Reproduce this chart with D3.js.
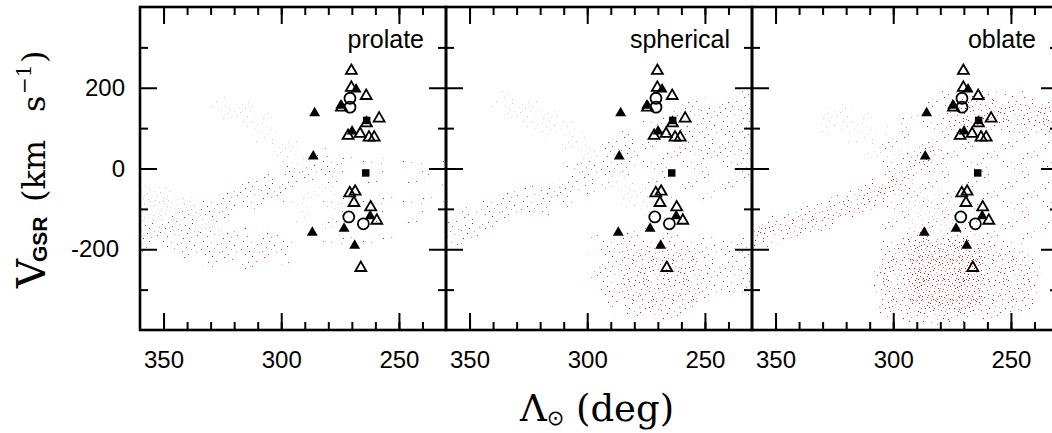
<!DOCTYPE html>
<html><head><meta charset="utf-8">
<script src="https://cdn.jsdelivr.net/npm/d3@7/dist/d3.min.js"></script>
<style>body{margin:0;background:#fff}svg{display:block}</style>
</head><body>
<script>
// ================= DATA =================
const panelNames = ["prolate", "spherical", "oblate"];
const xMajorTicks = [350, 300, 250];
const xMinorTicks = [350, 340, 330, 320, 310, 300, 290, 280, 270, 260, 250, 240];
const yMajorTicks = [-200, 0, 200];
const yMinorTicks = [-300, -100, 100, 300];

// observed stars [Lambda, V_GSR] (same in all panels)
const openTriangles = [[270.2,242],[270.2,200],[263.9,180],[274.4,151],[258.4,124],[263.8,112],
  [271.6,81],[266.5,86],[262.7,77],[260.5,77],[270.9,-61],[268.6,-57],[269.1,-85],[262.0,-96],
  [259.4,-129],[266.2,-246]];
const filledTriangles = [[285.8,137],[268.2,196],[274.7,156],[269.9,92],[286.4,30],[286.8,-159],
  [273.3,-149],[268.8,-191],[262.2,-118]];
const openCircles = [[270.8,174],[270.8,152],[271.3,-120],[265.1,-137]];
const filledSquares = [[263.7,119],[264.1,-11]];

// simulated particle clouds: rows of [Lambda, V_low, V_high] (outline of each cloud)
const prolateGreyClump   = [[360,-165,-55],[352,-170,-62],[344,-166,-75],[336,-160,-100],[328,-150,-115]];
const prolateGreyStream  = [[327,140,170],[318,112,152],[310,88,135],[302,45,95],[295,5,60],[288,-25,25],[281,-65,5],[277,-90,-20]];
const prolateGreyDiffuse = [[298,-60,0],[290,-130,-20],[282,-170,-60],[276,-170,-90]];
const prolateRedStream   = [[358,-195,-140],[348,-170,-115],[338,-150,-95],[325,-115,-70],[310,-80,-38],[296,-55,-5],[284,-25,25],[276,-5,35]];
const prolateRedLower    = [[352,-195,-150],[345,-205,-145],[335,-215,-150],[325,-228,-158],[315,-230,-165],[305,-225,-175],[298,-215,-185]];
const prolateRedScatter  = [[282,-190,40],[265,-190,30],[250,-170,20],[231,-150,10]];
const prolateRedKnot     = [[239,-40,0],[231,-45,5]];

const sphGreyStream  = [[337,150,182],[325,125,160],[313,80,122],[301,18,60],[289,-45,12],[280,-95,-35],[270,-170,-90]];
const sphGreyTail    = [[360,-175,-135],[348,-155,-110],[336,-130,-90]];
const sphGreyDiffuse = [[295,-220,-150],[275,-330,-180],[255,-330,-190],[231,-300,-200]];
const sphRedStream   = [[360,-180,-128],[346,-155,-103],[332,-122,-78],[317,-97,-45],[303,-55,4],[289,-12,53],[280,4,88]];
const sphRedUpper    = [[282,-30,85],[270,-45,110],[258,-60,150],[246,-60,160],[231,-45,178]];
const sphRedUpperCore = [[262,40,135],[250,30,155],[240,20,165],[231,20,172]];
const sphRedLower    = [[296,-300,-180],[288,-330,-170],[280,-350,-165],[270,-360,-175],[258,-345,-178],[245,-315,-190],[231,-295,-192]];
const sphRedCore     = [[286,-320,-200],[275,-345,-195],[262,-340,-200],[252,-320,-200]];

const oblGreyStream  = [[328,105,150],[314,70,125],[300,5,72],[289,-60,15],[280,-125,-45],[272,-190,-100]];
const oblGreyCore    = [[291,-150,-60],[282,-175,-80],[274,-190,-110]];
const oblGreyTail    = [[360,-182,-150],[346,-162,-128],[334,-140,-105]];
const oblRedScatter  = [[305,-170,60],[290,-180,130],[275,-180,180],[255,-180,180],[231,-150,170]];
const oblRedStream   = [[360,-182,-150],[346,-162,-128],[332,-138,-103],[317,-105,-70],[303,-72,-29],[296,-45,4],[289,-12,37],[282,15,60]];
const oblRedUpper    = [[276,100,175],[262,115,172],[248,108,165],[231,100,155]];
const oblRedLower    = [[305,-340,-225],[295,-360,-180],[283,-368,-168],[268,-362,-175],[253,-345,-205],[241,-325,-240]];
const oblRedCore     = [[293,-330,-190],[282,-355,-180],[270,-350,-190],[262,-330,-200]];

// ================= LAYOUT / STYLE =================
const W = 1052, H = 433;
const panelX = [140, 446, 752], panelW = 306, plotTop = 7, plotBottom = 330;

const layers = [
  [ {band: prolateGreyClump, c: "grey", d: "d"}, {band: prolateGreyStream, c: "grey", d: "m"},
    {band: prolateGreyDiffuse, c: "grey", d: "s"}, {band: prolateRedScatter, c: "red", d: "xs"},
    {band: prolateRedStream, c: "red", d: "m"}, {band: prolateRedLower, c: "red", d: "m"},
    {band: prolateRedKnot, c: "red", d: "s"} ],
  [ {band: sphGreyStream, c: "grey", d: "m"}, {band: sphGreyTail, c: "grey", d: "s"},
    {band: sphGreyDiffuse, c: "grey", d: "xs"}, {band: sphRedUpper, c: "red", d: "s"},
    {band: sphRedUpperCore, c: "red", d: "m"},
    {band: sphRedStream, c: "red", d: "m"}, {band: sphRedLower, c: "red", d: "m"},
    {band: sphRedCore, c: "red", d: "d"} ],
  [ {band: oblGreyStream, c: "grey", d: "m"}, {band: oblGreyCore, c: "grey", d: "d"},
    {band: oblGreyTail, c: "grey", d: "s"}, {band: oblRedScatter, c: "red", d: "s"},
    {band: oblRedStream, c: "red", d: "d"}, {band: oblRedUpper, c: "red", d: "d"},
    {band: oblRedLower, c: "red", d: "d"}, {band: oblRedCore, c: "red", d: "x"} ]
];

// texture (dot positions inside a 20x20 quadrant; tile = 4 mirrored quadrants)
const dotSpots = [[3,1],[11,2],[17,4],[7,6],[14,8],[1,9],[9,11],[19,12],[5,14],[12,16],[16,18],[2,19],
  [8,0],[15,13],[4,4],[18,8],[10,7],[0,15],[13,19],[6,10],[16,1],[1,5],[11,14],[7,17],[19,16],[9,3],
  [3,12],[14,11],[5,8],[17,19],[12,5],[0,2],[8,15],[18,0],[6,19],[15,6],[2,16],[10,18],[19,10],[4,0]];
const densityLevels = ["xs", "s", "m", "d", "x"];
const densities = {xs: 2, s: 5, m: 10, d: 20, x: 40};
const palette = {red: ["#ff0000", "#ff8c8c", "#ff3c3c"], grey: ["#c4c4c4", "#dedede", "#d0d0d0"]};
const quadrants = [s => [s[0], s[1]], s => [20 + s[1], s[0]], s => [19 - s[0], 20 + s[1]], s => [20 + s[0], 39 - s[1]]];

const svg = d3.select("body").append("svg").attr("width", W).attr("height", H);
const defs = svg.append("defs");
Object.entries(palette).forEach(([cname, cols]) => {
  Object.entries(densities).forEach(([dname, n]) => {
    const p = defs.append("pattern").attr("id", `pat-${cname}-${dname}`)
      .attr("patternUnits", "userSpaceOnUse").attr("width", 40).attr("height", 40);
    quadrants.forEach((q, qi) => {
      dotSpots.slice(0, n).forEach((s, i) => {
        const [px, py] = q(s);
        p.append("rect").attr("x", px).attr("y", py).attr("width", 1).attr("height", 1)
          .attr("fill", cols[(i + qi) % 3]);
      });
    });
  });
});

const y = d3.scaleLinear().domain([-400, 400]).range([plotBottom, plotTop]);
const axisFont = "'Liberation Sans', Arial, Helvetica, sans-serif";

panelX.forEach((x0, pi) => {
  const x = d3.scaleLinear().domain([360, 230]).range([x0, x0 + panelW]);
  const g = svg.append("g");
  defs.append("clipPath").attr("id", "clip" + pi).append("rect")
    .attr("x", x0).attr("y", plotTop).attr("width", panelW).attr("height", plotBottom - plotTop);
  const cg = g.append("g").attr("clip-path", `url(#clip${pi})`);
  const area = d3.area().x(d => x(d[0])).y0(d => y(d[1])).y1(d => y(d[2])).curve(d3.curveCatmullRom);
  // soft sparse halo around every cloud, then the cloud itself
  layers[pi].forEach(L => {
    const lvl = densityLevels.indexOf(L.d);
    if (lvl > 0) {
      cg.append("path").attr("d", area(L.band)).attr("fill", "none")
        .attr("stroke", `url(#pat-${L.c}-${densityLevels[lvl - 1]})`)
        .attr("stroke-width", 16).attr("stroke-linejoin", "round");
    }
  });
  layers[pi].forEach(L => {
    cg.append("path").attr("d", area(L.band)).attr("fill", `url(#pat-${L.c}-${L.d})`);
  });

  // markers
  const mg = cg.append("g");
  const tri = d3.symbol().type(d3.symbolTriangle).size(52);
  mg.selectAll(".ot").data(openTriangles).join("path")
    .attr("transform", d => `translate(${x(d[0])},${y(d[1])})`).attr("d", tri)
    .attr("fill", "none").attr("stroke", "#000").attr("stroke-width", 1.8);
  mg.selectAll(".ft").data(filledTriangles).join("path")
    .attr("transform", d => `translate(${x(d[0])},${y(d[1])})`).attr("d", tri).attr("fill", "#000");
  mg.selectAll(".oc").data(openCircles).join("circle")
    .attr("cx", d => x(d[0])).attr("cy", d => y(d[1])).attr("r", 5.5)
    .attr("fill", "none").attr("stroke", "#000").attr("stroke-width", 1.8);
  mg.selectAll(".fs").data(filledSquares).join("path")
    .attr("transform", d => `translate(${x(d[0])},${y(d[1])})`)
    .attr("d", d3.symbol().type(d3.symbolSquare).size(56)).attr("fill", "#000");

  // axes
  const styleAxis = sel => { sel.select(".domain").remove(); sel.selectAll("line").attr("stroke", "#000").attr("stroke-width", 2); };
  g.append("g").attr("transform", `translate(0,${plotBottom})`)
    .call(d3.axisBottom(x).tickValues(xMinorTicks).tickSizeInner(-8).tickSizeOuter(0).tickFormat("")).call(styleAxis);
  const bx = g.append("g").attr("transform", `translate(0,${plotBottom})`)
    .call(d3.axisBottom(x).tickValues(xMajorTicks).tickSizeInner(-17).tickSizeOuter(0).tickPadding(21).tickFormat(d3.format("d")))
    .call(styleAxis);
  bx.selectAll("text").attr("font-family", axisFont).attr("font-size", 24).attr("fill", "#000");
  g.append("g").attr("transform", `translate(0,${plotTop})`)
    .call(d3.axisTop(x).tickValues(xMinorTicks).tickSizeInner(-8).tickSizeOuter(0).tickFormat("")).call(styleAxis);
  g.append("g").attr("transform", `translate(0,${plotTop})`)
    .call(d3.axisTop(x).tickValues(xMajorTicks).tickSizeInner(-17).tickSizeOuter(0).tickFormat("")).call(styleAxis);
  [[x0, d3.axisLeft], [x0 + panelW, d3.axisRight]].forEach(([px, ax], k) => {
    g.append("g").attr("transform", `translate(${px},0)`)
      .call(ax(y).tickValues(yMinorTicks).tickSizeInner(-8).tickSizeOuter(0).tickFormat("")).call(styleAxis);
    const ay = g.append("g").attr("transform", `translate(${px},0)`)
      .call(ax(y).tickValues(yMajorTicks).tickSizeInner(-17).tickSizeOuter(0).tickPadding(15)
        .tickFormat(d => (pi === 0 && k === 0) ? (d < 0 ? "-" + (-d) : String(d)) : ""))
      .call(styleAxis);
    ay.selectAll("text").attr("font-family", axisFont).attr("font-size", 24).attr("fill", "#000")
      .attr("dx", d => d < 0 ? -6 : 0);
  });

  // frame
  g.append("rect").attr("x", x0).attr("y", plotTop).attr("width", panelW).attr("height", plotBottom - plotTop)
    .attr("fill", "none").attr("stroke", "#000").attr("stroke-width", 2.6);

  // panel label
  g.append("text").attr("x", x0 + 284).attr("y", 48).attr("text-anchor", "end")
    .attr("font-family", axisFont).attr("font-size", 25).attr("fill", "#000").text(panelNames[pi]);
});

// axis titles
const serif = "'DejaVu Serif', serif";
const xt = svg.append("text").attr("x", 520).attr("y", 421).attr("font-family", serif).attr("font-size", 37).attr("fill", "#000");
xt.append("tspan").text("Λ");
xt.append("tspan").attr("font-family", "'DejaVu Sans', sans-serif").attr("font-size", 21).attr("dy", 4).text("⊙");
xt.append("tspan").attr("x", 576).attr("dy", -4).text("(deg)");

const yt = svg.append("text").attr("transform", "translate(45,288) rotate(-90)")
  .attr("font-family", serif).attr("font-size", 32).attr("fill", "#000");
yt.append("tspan").attr("x", 0).attr("font-size", 40).text("V");
yt.append("tspan").attr("x", 26).attr("dy", 2).attr("font-family", axisFont).attr("font-weight", "bold").attr("font-size", 21).text("GSR");
yt.append("tspan").attr("x", 86).attr("dy", -2).text("(km");
yt.append("tspan").attr("x", 176).text("s");
yt.append("tspan").attr("x", 194).attr("dy", -14).attr("font-size", 20).text("−1");
yt.append("tspan").attr("x", 225).attr("dy", 14).text(")");
</script>
</body></html>
